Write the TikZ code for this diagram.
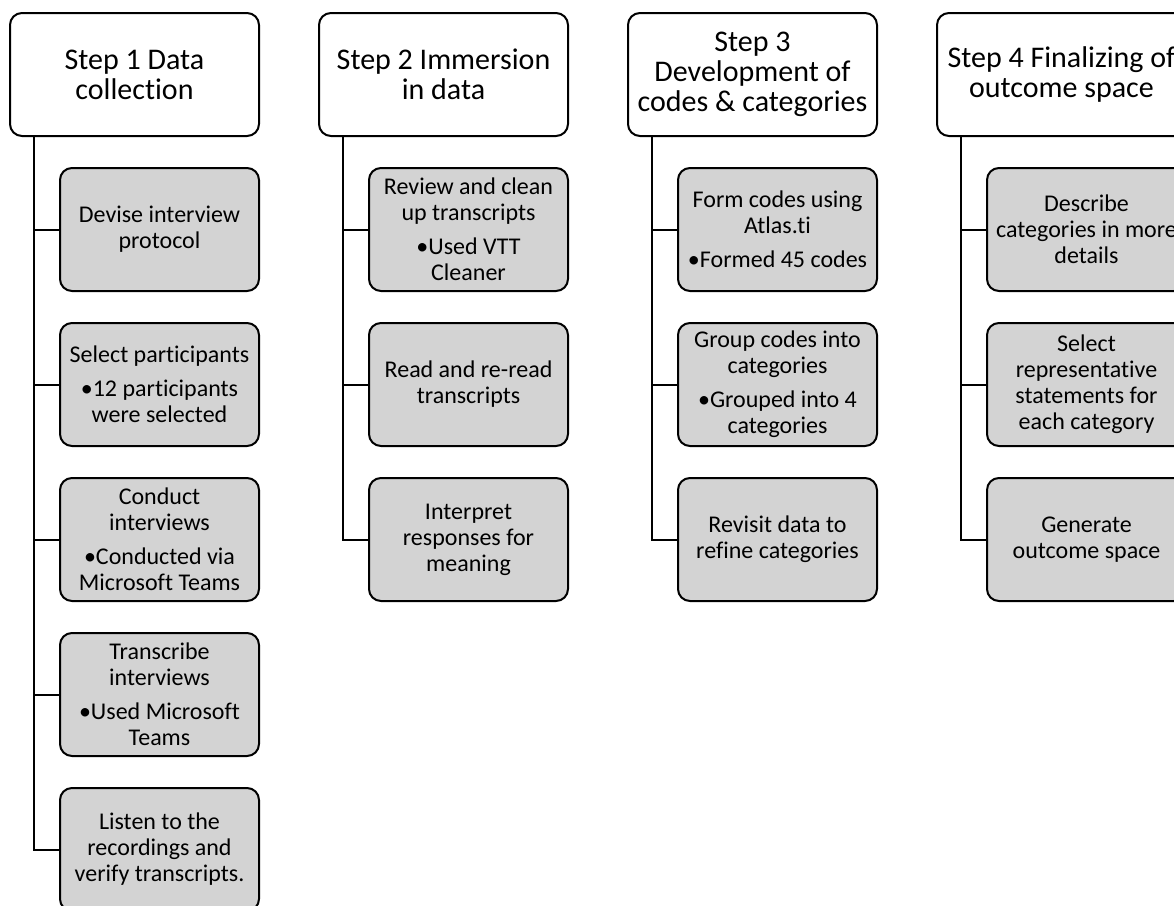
\documentclass[tikz,border=0pt]{standalone}
\usepackage{fontspec}
\setmainfont{Carlito}[RawFeature=-liga]
\usetikzlibrary{positioning}

\definecolor{boxgray}{RGB}{211,211,211}

\tikzset{
  stephead/.style={draw=black, line width=2pt, rounded corners=12pt, fill=white,
    minimum width=249pt, minimum height=123pt, align=center, inner sep=1pt,
    font=\fontsize{30}{30}\selectfont},
  substep/.style={draw=black, line width=2pt, rounded corners=12pt, fill=boxgray,
    minimum width=199pt, minimum height=123pt, align=center, inner sep=1pt,
    font=\fontsize{24}{26}\selectfont},
  branch/.style={line width=2pt}
}

\begin{document}
\begin{tikzpicture}[x=1pt, y=-1pt]
  \useasboundingbox (0,0) rectangle (1174,905);

  % step headers
  \node[stephead] (s1) at (134.5,74.5) {Step 1 Data\\collection};
  \node[stephead, right=58pt of s1] (s2) {Step 2 Immersion\\in data};
  \node[stephead, right=58pt of s2] (s3) {Step 3\\Development of\\codes \& categories};
  \node[stephead, right=58pt of s3] (s4) {Step 4 Finalizing of\\outcome space};

  % step 1
  \node[substep, anchor=north east] (s1a) at ([yshift=-30pt]s1.south east) {Devise interview\\protocol};
  \node[substep, below=30pt of s1a] (s1b) {Select participants\\[8pt]•12 participants\\were selected};
  \node[substep, below=30pt of s1b] (s1c) {Conduct\\interviews\\[8pt]•Conducted via\\Microsoft Teams};
  \node[substep, below=30pt of s1c] (s1d) {Transcribe\\interviews\\[8pt]•Used Microsoft\\Teams};
  \node[substep, below=30pt of s1d] (s1e) {Listen to the\\recordings and\\verify transcripts.};

  % step 2
  \node[substep, anchor=north east] (s2a) at ([yshift=-30pt]s2.south east) {Review and clean\\up transcripts\\[8pt]•Used VTT\\Cleaner};
  \node[substep, below=30pt of s2a] (s2b) {Read and re-read\\transcripts};
  \node[substep, below=30pt of s2b] (s2c) {Interpret\\responses for\\meaning};

  % step 3
  \node[substep, anchor=north east] (s3a) at ([yshift=-30pt]s3.south east) {Form codes using\\Atlas.ti\\[8pt]•Formed 45 codes};
  \node[substep, below=30pt of s3a] (s3b) {Group codes into\\categories\\[8pt]•Grouped into 4\\categories};
  \node[substep, below=30pt of s3b] (s3c) {Revisit data to\\refine categories};

  % step 4
  \node[substep, anchor=north east] (s4a) at ([yshift=-30pt]s4.south east) {Describe\\categories in more\\details};
  \node[substep, below=30pt of s4a] (s4b) {Select\\representative\\statements for\\each category};
  \node[substep, below=30pt of s4b] (s4c) {Generate\\outcome space};

  % connectors
  \foreach \h/\list in {s1/{s1a,s1b,s1c,s1d,s1e}, s2/{s2a,s2b,s2c},
                        s3/{s3a,s3b,s3c}, s4/{s4a,s4b,s4c}} {
    \foreach \c in \list {
      \draw[branch] ([xshift=25pt]\h.south west) |- (\c.west);
    }
  }
\end{tikzpicture}
\end{document}
